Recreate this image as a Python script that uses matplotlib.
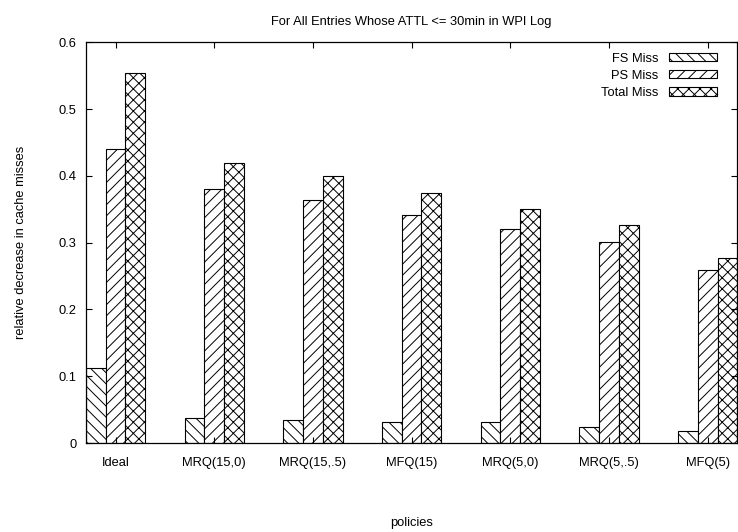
import matplotlib
matplotlib.use("Agg")
import matplotlib.pyplot as plt
import numpy as np

plt.rcParams['font.family'] = ['Liberation Sans', 'DejaVu Sans']
plt.rcParams['hatch.linewidth'] = 0.7

# data
policies = ["Ideal", "MRQ(15,0)", "MRQ(15,.5)", "MFQ(15)", "MRQ(5,0)", "MRQ(5,.5)", "MFQ(5)"]
fs_miss = [0.113, 0.0375, 0.035, 0.0315, 0.0315, 0.0245, 0.0186]
ps_miss = [0.440, 0.380, 0.364, 0.342, 0.320, 0.301, 0.259]
total_miss = [0.5545, 0.419, 0.400, 0.374, 0.351, 0.326, 0.277]
yticks = [0, 0.1, 0.2, 0.3, 0.4, 0.5, 0.6]
ytick_labels = ["0", "0.1", "0.2", "0.3", "0.4", "0.5", "0.6"]

fs = 9.3

fig = plt.figure(figsize=(7.38, 5.32), dpi=100)
ax = fig.add_axes([86 / 738, 1 - 443 / 532, 1 - 86 / 738 - 0.001, (443 - 42.3) / 532])

x = np.arange(len(policies))
w = 0.2
ax.bar(x - w, fs_miss, w, color='white', edgecolor='black', linewidth=0.8, hatch='\\\\\\', label='FS Miss')
ax.bar(x, ps_miss, w, color='white', edgecolor='black', linewidth=0.8, hatch='///', label='PS Miss')
ax.bar(x + w, total_miss, w, color='white', edgecolor='black', linewidth=0.8, hatch='xxx', label='Total Miss')

ax.set_xlim(-0.3, len(policies) - 0.7)
ax.set_ylim(0, 0.6)
ax.set_xticks(x)
ax.set_xticklabels(policies)
ax.set_yticks(yticks)
ax.set_yticklabels(ytick_labels)
ax.tick_params(direction='in', top=True, right=True, length=4.5, width=0.8, labelsize=fs)
ax.tick_params(axis='x', pad=10)
ax.tick_params(axis='y', pad=7)
for s in ax.spines.values():
    s.set_linewidth(0.9)

ax.set_title("For All Entries Whose ATTL <= 30min in WPI Log", fontsize=fs, pad=12.5)
ax.set_xlabel("policies", fontsize=fs, labelpad=34.5)
ax.set_ylabel("relative decrease in cache misses", fontsize=fs, labelpad=22.5)

ax.legend(loc='upper right', bbox_to_anchor=(0.969, 0.974), frameon=False, markerfirst=False,
          fontsize=fs, handlelength=3.7, handleheight=0.6, handletextpad=0.85,
          labelspacing=0.4, borderpad=0, borderaxespad=0)

fig.savefig("out.png", dpi=100)
